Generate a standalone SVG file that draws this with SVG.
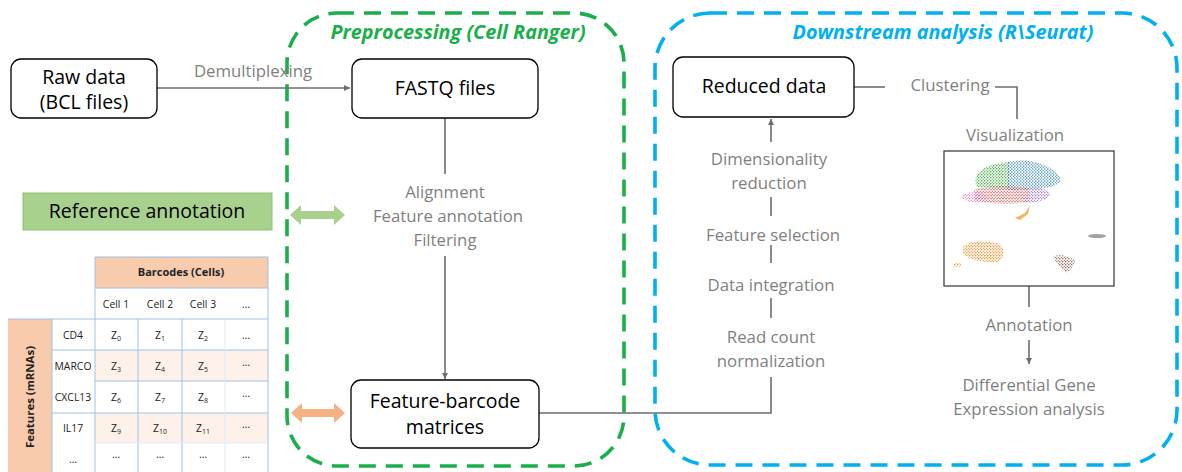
<svg xmlns="http://www.w3.org/2000/svg" width="1182" height="472" viewBox="0 0 1182 472">
<style>
text{font-family:"Open Sans","Noto Sans","Liberation Sans",sans-serif}
.box{fill:#fff;stroke:#000;stroke-width:1.3}
.bt{font-size:19.5px;fill:#000;text-anchor:middle}
.gt{font-size:16.8px;fill:#7f7f7f;text-anchor:middle}
.ln{fill:none;stroke:#6e6e6e;stroke-width:1.6}
.tb{font-size:10.4px;fill:#222;text-anchor:middle}
.sb{font-size:7px}
.grid{stroke:#9dc3e6;stroke-width:1;fill:none}
.gridl{stroke:#deebf7;stroke-width:1;fill:none}
.ttl{font-size:19.8px;font-weight:bold;font-style:italic;text-anchor:middle}
</style>
<defs>
<marker id="ah" viewBox="0 0 10 10" refX="10" refY="5" markerWidth="6" markerHeight="6" markerUnits="userSpaceOnUse" orient="auto"><path d="M0,0 L10,5 L0,10 Z" fill="#6e6e6e"/></marker>
<pattern id="pG" width="3" height="3" patternUnits="userSpaceOnUse"><circle cx="0.8" cy="0.8" r="0.75" fill="#2ca02c"/><circle cx="2.3" cy="2.2" r="0.6" fill="#2ca02c"/></pattern>
<pattern id="pB" width="3" height="3" patternUnits="userSpaceOnUse"><circle cx="0.8" cy="1" r="0.75" fill="#1f77b4"/><circle cx="2.3" cy="2.3" r="0.6" fill="#1f77b4"/></pattern>
<pattern id="pR" width="3" height="3" patternUnits="userSpaceOnUse"><circle cx="1" cy="0.8" r="0.7" fill="#d62728"/><circle cx="2.3" cy="2.3" r="0.55" fill="#d62728"/></pattern>
<pattern id="pP" width="3" height="3" patternUnits="userSpaceOnUse"><circle cx="0.8" cy="0.8" r="0.75" fill="#e377c2"/><circle cx="2.3" cy="2.3" r="0.6" fill="#e377c2"/></pattern>
<pattern id="pV" width="3" height="3" patternUnits="userSpaceOnUse"><circle cx="0.8" cy="0.8" r="0.8" fill="#9467bd"/><circle cx="2.3" cy="2.3" r="0.6" fill="#9467bd"/></pattern>
<pattern id="pO" width="3" height="3" patternUnits="userSpaceOnUse"><circle cx="0.8" cy="0.8" r="0.8" fill="#ff7f0e"/><circle cx="2.3" cy="2.3" r="0.6" fill="#ff7f0e"/></pattern>
<pattern id="pN" width="3" height="3" patternUnits="userSpaceOnUse"><circle cx="0.8" cy="0.8" r="0.8" fill="#8c564b"/><circle cx="2.3" cy="2.3" r="0.6" fill="#8c564b"/></pattern>
</defs>

<!-- group boxes -->
<g id="preprocessing">
<rect x="287" y="13" width="337" height="453" rx="50" ry="50" fill="none" stroke="#1aaf4b" stroke-width="3.6" stroke-dasharray="17,10"/>
<text class="ttl" x="458" y="39" fill="#1aaf4b">Preprocessing (Cell Ranger)</text>
</g>
<g id="downstream">
<rect x="655" y="13" width="522" height="452" rx="55" ry="55" fill="none" stroke="#00b0f0" stroke-width="3.6" stroke-dasharray="17,10"/>
<text class="ttl" x="943" y="39" fill="#00b0f0">Downstream analysis (R\Seurat)</text>
</g>

<!-- connectors -->
<g id="connectors">
<path class="ln" d="M157,88 H350" marker-end="url(#ah)"/>
<path class="ln" d="M445,118 V174"/>
<path class="ln" d="M445,256 V379" marker-end="url(#ah)"/>
<path class="ln" d="M539,413 H771 V377"/>
<path class="ln" d="M771,318 V298"/>
<path class="ln" d="M771,263 V245"/>
<path class="ln" d="M771,216 V197"/>
<path class="ln" d="M771,142 V119" marker-end="url(#ah)"/>
<path class="ln" d="M854,87 H885"/>
<path class="ln" d="M995,87 H1017 V119"/>
<path class="ln" d="M1029,286 V307"/>
<path class="ln" d="M1029,340 V364" marker-end="url(#ah)"/>
<polygon points="290,215 301,205 301,211 334,211 334,205 345,215 334,225 334,219 301,219 301,225" fill="#a9d18e"/>
<polygon points="291,413 302,403 302,409 334,409 334,403 345,413 334,423 334,417 302,417 302,423" fill="#f4b183"/>
</g>

<g id="connector-labels">
<text class="gt" x="253" y="77">Demultiplexing</text>
<text class="gt" x="445" y="198">Alignment</text>
<text class="gt" x="448" y="222">Feature annotation</text>
<text class="gt" x="445" y="246">Filtering</text>
<text class="gt" x="769" y="165">Dimensionality</text>
<text class="gt" x="769" y="189">reduction</text>
<text class="gt" x="773" y="241">Feature selection</text>
<text class="gt" x="771" y="291">Data integration</text>
<text class="gt" x="771" y="343">Read count</text>
<text class="gt" x="771" y="367">normalization</text>
<text class="gt" x="950" y="91">Clustering</text>
<text class="gt" x="1015" y="141">Visualization</text>
<text class="gt" x="1029" y="331">Annotation</text>
<text class="gt" x="1029" y="391">Differential Gene</text>
<text class="gt" x="1029" y="415">Expression analysis</text>
</g>

<!-- nodes -->
<g id="raw-data">
<rect class="box" x="11" y="59" width="146" height="59" rx="10"/>
<text class="bt" x="84" y="84">Raw data</text>
<text class="bt" x="84" y="109">(BCL files)</text>
</g>
<g id="fastq">
<rect class="box" x="352" y="59" width="186" height="59" rx="10"/>
<text class="bt" x="445" y="95">FASTQ files</text>
</g>
<g id="feature-barcode">
<rect class="box" x="351" y="380" width="188" height="68" rx="10"/>
<text class="bt" x="445" y="408">Feature-barcode</text>
<text class="bt" x="445" y="434">matrices</text>
</g>
<g id="reduced-data">
<rect class="box" x="673" y="57" width="181" height="60" rx="10"/>
<text class="bt" x="764" y="93">Reduced data</text>
</g>
<g id="reference-annotation">
<rect x="23" y="193" width="249" height="37" fill="#a9d18e" stroke="#8fc06e" stroke-width="1"/>
<text class="bt" x="147" y="218">Reference annotation</text>
</g>

<!-- UMAP -->
<g id="visualization">
<rect x="944" y="151" width="170" height="135" fill="#fff" stroke="#333" stroke-width="1.2"/>
<path d="M977,187 C971,174 983,164 1009,162 L1009,189 Z" fill="url(#pG)"/>
<path d="M1008,162 C1030,157 1056,166 1061,180 C1058,188 1040,190 1008,190 Z" fill="url(#pB)"/>
<path d="M974,190 C990,185 1015,186 1028,188 L1028,202 C1010,205 985,204 974,200 Z" fill="url(#pR)"/>
<ellipse cx="975" cy="197" rx="13" ry="5" fill="url(#pP)"/>
<path d="M1027,188 C1040,186 1050,190 1050,195 C1046,201 1035,203 1027,202 Z" fill="url(#pV)"/>
<path d="M1030,205 L1025,213 L1015,218 L1020,220 L1028,214 Z" fill="#f4a340" opacity="0.8"/>
<path d="M963,247 C968,240 985,240 1000,244 C1006,250 1004,258 998,262 C985,263 968,260 963,253 Z" fill="url(#pO)"/>
<ellipse cx="957" cy="265" rx="4" ry="2" fill="url(#pO)"/>
<path d="M1053,256 C1062,254 1072,256 1075,262 C1073,268 1068,272 1066,273 C1060,266 1055,262 1053,256 Z" fill="url(#pN)"/>
<ellipse cx="1097" cy="236" rx="9" ry="2" fill="#8a8a8a" opacity="0.8"/>
</g>

<!-- table -->
<g id="matrix-table">
<rect x="95" y="257" width="173" height="31" fill="#f8cbad"/>
<text x="181" y="276" font-size="11" font-weight="bold" fill="#222" text-anchor="middle">Barcodes (Cells)</text>
<rect x="8" y="319" width="44" height="153" fill="#f8cbad"/>
<text transform="translate(34,397) rotate(-90)" font-size="11.4" font-weight="bold" fill="#222" text-anchor="middle">Features (mRNAs)</text>
<rect x="95" y="350" width="173" height="31" fill="#fdf1e9"/>
<rect x="95" y="413" width="173" height="30" fill="#fdf1e9"/>
<path class="grid" d="M95,257 H268 V472 M95,257 V472 M95,288 H268 M8,319 H268 M52,350 H268 M52,413 H268 M138,319 V472 M182,319 V472 M52,319 V472 M95,381 H268"/>
<path class="gridl" d="M225,319 V472 M95,443 H268"/>
<text class="tb" x="116" y="308">Cell 1</text>
<text class="tb" x="160" y="308">Cell 2</text>
<text class="tb" x="203" y="308">Cell 3</text>
<text class="tb" x="246" y="308">…</text>
<text class="tb" x="73" y="339">CD4</text>
<text class="tb" x="73" y="370">MARCO</text>
<text class="tb" x="73" y="401">CXCL13</text>
<text class="tb" x="73" y="432">IL17</text>
<text class="tb" x="73" y="463">…</text>
<text class="tb" x="116" y="339">Z<tspan class="sb" dy="2">0</tspan></text>
<text class="tb" x="160" y="339">Z<tspan class="sb" dy="2">1</tspan></text>
<text class="tb" x="203" y="339">Z<tspan class="sb" dy="2">2</tspan></text>
<text class="tb" x="246" y="339">…</text>
<text class="tb" x="116" y="370">Z<tspan class="sb" dy="2">3</tspan></text>
<text class="tb" x="160" y="370">Z<tspan class="sb" dy="2">4</tspan></text>
<text class="tb" x="203" y="370">Z<tspan class="sb" dy="2">5</tspan></text>
<text class="tb" x="246" y="366">…</text>
<text class="tb" x="116" y="401">Z<tspan class="sb" dy="2">6</tspan></text>
<text class="tb" x="160" y="401">Z<tspan class="sb" dy="2">7</tspan></text>
<text class="tb" x="203" y="401">Z<tspan class="sb" dy="2">8</tspan></text>
<text class="tb" x="246" y="397">…</text>
<text class="tb" x="116" y="432">Z<tspan class="sb" dy="2">9</tspan></text>
<text class="tb" x="160" y="432">Z<tspan class="sb" dy="2">10</tspan></text>
<text class="tb" x="203" y="432">Z<tspan class="sb" dy="2">11</tspan></text>
<text class="tb" x="246" y="428">…</text>
<text class="tb" x="116" y="458">…</text>
<text class="tb" x="160" y="458">…</text>
<text class="tb" x="203" y="458">…</text>
<text class="tb" x="246" y="458">…</text>
</g>
</svg>
